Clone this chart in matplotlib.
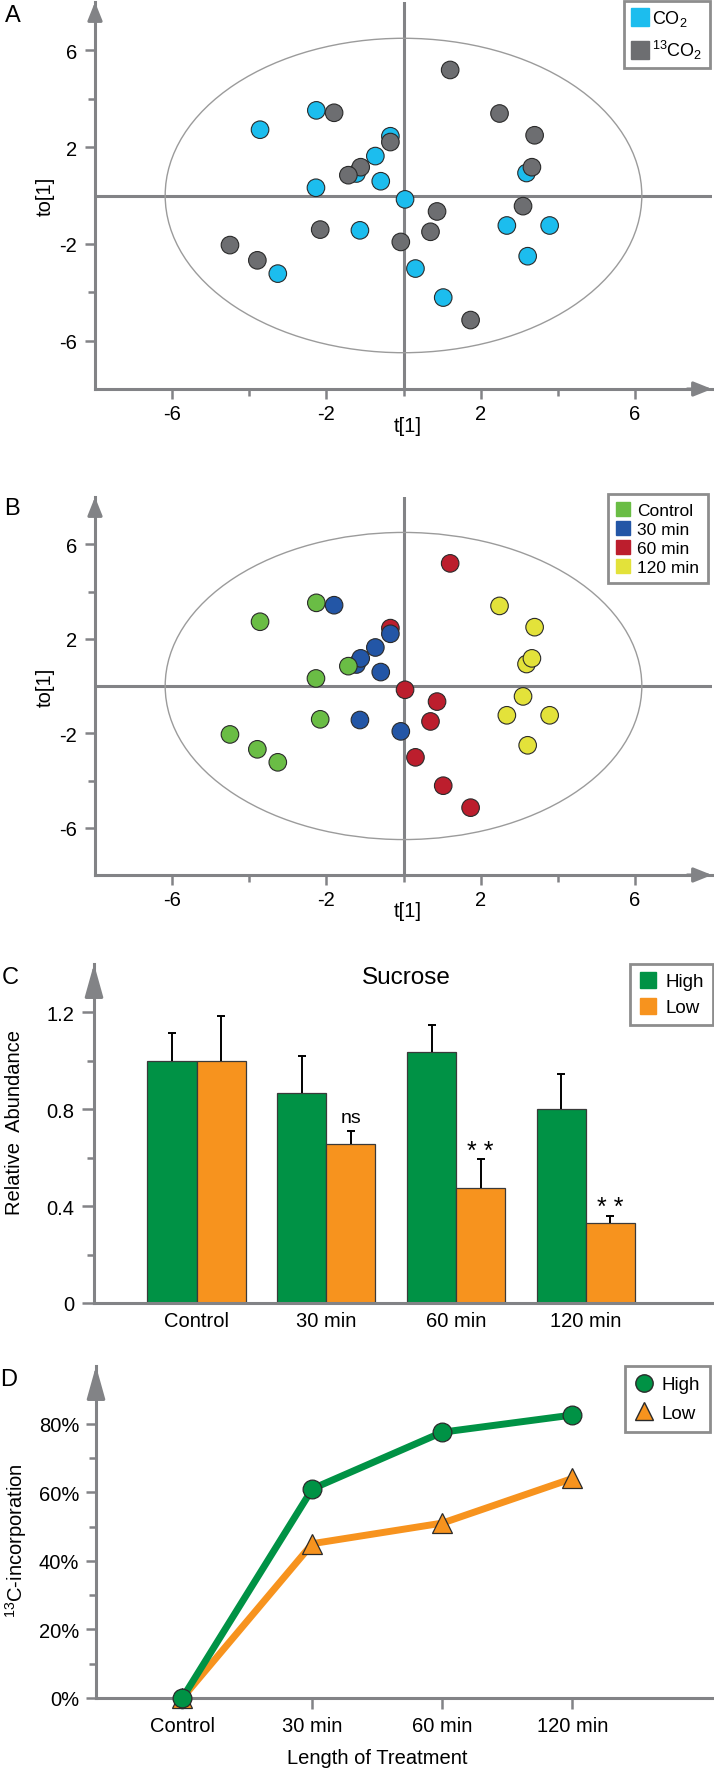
import matplotlib
matplotlib.use("Agg")
import matplotlib.pyplot as plt
from matplotlib.patches import Ellipse
from matplotlib.lines import Line2D
from matplotlib.ticker import FuncFormatter
import numpy as np

plt.rcParams['font.family'] = ['Liberation Sans', 'DejaVu Sans']
plt.rcParams['mathtext.fontset'] = 'custom'
plt.rcParams['mathtext.rm'] = 'Liberation Sans'
plt.rcParams['mathtext.it'] = 'Liberation Sans:italic'
plt.rcParams['axes.unicode_minus'] = False

# OPLS scores: 16 CO2 samples first, then 16 13CO2 samples
score_t = [-3.72, -2.26, -2.27, -0.34, -0.73, -1.22, -0.59, 0.04,
           -1.13, -3.26, 0.31, 1.03, 2.68, 3.79, 3.22, 3.19,
           1.21, -1.80, 2.49, 3.40, -0.34, -1.11, -1.43, 3.33,
           3.10, 0.87, 0.70, -0.07, -2.16, -4.50, -3.79, 1.74]
score_to = [2.72, 3.52, 0.32, 2.45, 1.63, 0.91, 0.59, -0.16,
            -1.44, -3.23, -3.02, -4.22, -1.24, -1.24, -2.51, 0.93,
            5.19, 3.42, 3.39, 2.49, 2.21, 1.17, 0.84, 1.17,
            -0.44, -0.66, -1.50, -1.92, -1.41, -2.05, -2.68, -5.15]
isotope = ['CO2', 'CO2', 'CO2', 'CO2', 'CO2', 'CO2', 'CO2', 'CO2',
           'CO2', 'CO2', 'CO2', 'CO2', 'CO2', 'CO2', 'CO2', 'CO2',
           '13CO2', '13CO2', '13CO2', '13CO2', '13CO2', '13CO2', '13CO2', '13CO2',
           '13CO2', '13CO2', '13CO2', '13CO2', '13CO2', '13CO2', '13CO2', '13CO2']
timepoint = ['Control', 'Control', 'Control', '60 min', '30 min', '30 min', '30 min', '60 min',
             '30 min', 'Control', '60 min', '60 min', '120 min', '120 min', '120 min', '120 min',
             '60 min', '30 min', '120 min', '120 min', '30 min', '30 min', 'Control', '120 min',
             '120 min', '60 min', '60 min', '30 min', 'Control', 'Control', 'Control', '60 min']

# Sucrose relative abundance
treatments = ['Control', '30 min', '60 min', '120 min']
sucrose_high = [1.00, 0.865, 1.035, 0.80]
sucrose_high_err = [0.115, 0.155, 0.11, 0.145]
sucrose_low = [1.00, 0.655, 0.475, 0.33]
sucrose_low_err = [0.185, 0.055, 0.12, 0.03]
significance = ['', 'ns', '* *', '* *']

# 13C incorporation (%)
incorp_high = [0, 61, 77.5, 82.5]
incorp_low = [0, 45, 51, 64]

GRAY = '#828386'
iso_colors = {'CO2': '#1CBDEE', '13CO2': '#6D6E71'}
iso_labels = {'CO2': 'CO$_2$', '13CO2': '$^{13}$CO$_2$'}
time_colors = {'Control': '#6ABD45', '30 min': '#2356A6', '60 min': '#BC1E2D', '120 min': '#E3E23A'}
GREEN = '#009245'
ORANGE = '#F7931E'

W, H = 714, 1774
fig = plt.figure(figsize=(W / 100, H / 100), dpi=100)


def px_axes(left, top, right, bottom):
    return fig.add_axes([left / W, 1 - bottom / H, (right - left) / W, (bottom - top) / H])


def style_axis(ax):
    for s in ['top', 'right']:
        ax.spines[s].set_visible(False)
    for s in ['left', 'bottom']:
        ax.spines[s].set_color(GRAY)
        ax.spines[s].set_linewidth(2.2)
    ax.tick_params(which='major', direction='out', color=GRAY, width=1.8, length=7, labelsize=14.5, pad=4)
    ax.tick_params(which='minor', direction='out', color=GRAY, width=1.8, length=5)


def arrow(ax, xy, xytext, big=False):
    if big:
        style = '-|>,head_length=1.0,head_width=0.28'
    else:
        style = '-|>,head_length=0.55,head_width=0.22'
    ax.annotate('', xy=xy, xytext=xytext, xycoords='axes fraction',
                arrowprops=dict(arrowstyle=style, color=GRAY, lw=2.2, shrinkA=0, shrinkB=0,
                                mutation_scale=20),
                annotation_clip=False)


def frame_legend(leg):
    fr = leg.get_frame()
    fr.set_edgecolor('#8d8d8d')
    fr.set_linewidth(2)
    fr.set_boxstyle('square', pad=0)


def score_plot(ax, colors):
    style_axis(ax)
    ax.set_xlim(-8, 8)
    ax.set_ylim(-8, 8)
    ax.axhline(0, color=GRAY, lw=2.2, zorder=1)
    ax.axvline(0, color=GRAY, lw=2.2, zorder=1)
    ax.add_patch(Ellipse((0, 0), 2 * 6.18, 2 * 6.5, fill=False, ec='#9b9b9b', lw=1.0, zorder=1))
    ax.scatter(score_t, score_to, s=160, c=colors, edgecolors='#2a2a2a', linewidths=0.8, zorder=3)
    ax.set_xticks([-6, -2, 2, 6])
    ax.set_xticks([-4, 0, 4], minor=True)
    ax.set_yticks([-6, -2, 2, 6])
    ax.set_yticks([-4, 4], minor=True)
    ax.tick_params(axis='y', which='major', pad=6)
    arrow(ax, (1.0, 0), (0.96, 0))
    arrow(ax, (0, 1.0), (0, 0.96))
    ax.text(-0.08, 0.5, 'to[1]', transform=ax.transAxes, rotation=90, ha='center', va='center', fontsize=14.5)
    ax.text(0.1, -9.5, 't[1]', ha='center', va='center', fontsize=14.5, clip_on=False)


def up_errorbars(ax, xs, means, errs):
    # one-sided (upper) error bars
    _, caps, _ = ax.errorbar(xs, means, yerr=[np.zeros(len(errs)), errs], fmt='none',
                             ecolor='black', elinewidth=1.4, capsize=2.7, capthick=1.4, zorder=3)
    caps[0].set_visible(False)


# ---- A: coloured by isotope
axA = px_axes(95, 3, 712, 390)
score_plot(axA, [iso_colors[i] for i in isotope])
hA = [Line2D([], [], marker='s', ls='none', markersize=13, markerfacecolor=iso_colors[k],
             markeredgecolor=iso_colors[k]) for k in ['CO2', '13CO2']]
legA = axA.legend(hA, [iso_labels[k] for k in ['CO2', '13CO2']], loc='upper right',
                  bbox_to_anchor=(710 / W, 1 - 2 / H), bbox_transform=fig.transFigure,
                  prop={'family': ['Liberation Sans Narrow', 'Liberation Sans'], 'size': 13},
                  handlelength=1.0, handletextpad=0.2, labelspacing=0.55,
                  borderpad=0.4, borderaxespad=0, fancybox=False, framealpha=1)
frame_legend(legA)

# ---- B: coloured by time point
axB = px_axes(95, 498, 712, 876)
score_plot(axB, [time_colors[t] for t in timepoint])
hB = [Line2D([], [], marker='s', ls='none', markersize=10, markerfacecolor=time_colors[k],
             markeredgecolor=time_colors[k]) for k in treatments]
legB = axB.legend(hB, treatments, loc='upper right',
                  bbox_to_anchor=(708 / W, 1 - 495 / H), bbox_transform=fig.transFigure,
                  fontsize=12.5, handlelength=0.8, handletextpad=0.4, labelspacing=0.22,
                  borderpad=0.5, borderaxespad=0, fancybox=False, framealpha=1)
frame_legend(legB)

# ---- C: sucrose bars
axC = px_axes(94, 965, 713, 1304)
style_axis(axC)
x = np.arange(len(treatments))
bw = 0.378
axC.bar(x - bw / 2, sucrose_high, bw, color=GREEN, edgecolor='#3a3a3a', lw=0.9, zorder=2)
axC.bar(x + bw / 2, sucrose_low, bw, color=ORANGE, edgecolor='#3a3a3a', lw=0.9, zorder=2)
up_errorbars(axC, x - bw / 2, sucrose_high, sucrose_high_err)
up_errorbars(axC, x + bw / 2, sucrose_low, sucrose_low_err)
for i, lab in enumerate(significance):
    if not lab:
        continue
    top = sucrose_low[i] + sucrose_low_err[i]
    if lab == 'ns':
        axC.text(x[i] + bw / 2, top + 0.035, lab, ha='center', va='baseline', fontsize=14)
    else:
        axC.text(x[i] + bw / 2, top + 0.005, lab, ha='center', va='baseline', fontsize=18)
axC.set_xlim(-0.79, 3.98)
axC.set_ylim(0, 1.398)
axC.set_xticks(x)
axC.set_xticklabels(treatments)
axC.tick_params(axis='x', length=0, pad=6)
axC.set_yticks([0, 0.4, 0.8, 1.2])
axC.set_yticks([0.2, 0.6, 1.0], minor=True)
axC.yaxis.set_major_formatter(FuncFormatter(lambda v, p: '0' if v == 0 else '%.1f' % v))
axC.tick_params(axis='y', which='major', length=9, pad=5)
arrow(axC, (0, 1.0), (0, 0.9), big=True)
axC.text(1.62, 1.345, 'Sucrose', ha='center', va='center', fontsize=17.5)
axC.text(-0.128, 0.534, 'Relative  Abundance', transform=axC.transAxes, rotation=90,
         ha='center', va='center', fontsize=14.5)
hC = [Line2D([], [], marker='s', ls='none', markersize=12, markerfacecolor=c, markeredgecolor=c)
      for c in [GREEN, ORANGE]]
legC = axC.legend(hC, ['High', 'Low'], loc='upper right',
                  bbox_to_anchor=(713 / W, 1 - 965 / H), bbox_transform=fig.transFigure,
                  fontsize=13.5, handlelength=1.0, handletextpad=0.4, labelspacing=0.45,
                  borderpad=0.5, borderaxespad=0, fancybox=False, framealpha=1)
frame_legend(legC)

# ---- D: 13C incorporation
axD = px_axes(96, 1367, 714, 1699)
style_axis(axD)
axD.plot(x, incorp_low, color=ORANGE, lw=5, marker='^', markersize=14.5,
         markerfacecolor=ORANGE, markeredgecolor='#2a2a2a', markeredgewidth=0.9, zorder=3, clip_on=False)
axD.plot(x, incorp_high, color=GREEN, lw=5, marker='o', markersize=13.5,
         markerfacecolor=GREEN, markeredgecolor='#2a2a2a', markeredgewidth=0.9, zorder=4, clip_on=False)
axD.set_xlim(-0.665, 4.09)
axD.set_ylim(0, 96.8)
axD.set_xticks(x)
axD.set_xticklabels(treatments)
axD.tick_params(axis='x', length=8, pad=5)
axD.set_yticks([0, 20, 40, 60, 80])
axD.set_yticks([10, 30, 50, 70], minor=True)
axD.yaxis.set_major_formatter(FuncFormatter(lambda v, p: '%d%%' % v))
axD.tick_params(axis='y', which='major', length=7, pad=5)
arrow(axD, (0, 1.0), (0, 0.9), big=True)
axD.text(1.5, -0.179, 'Length of Treatment', transform=axD.get_xaxis_transform(),
         ha='center', va='center', fontsize=14.5)
axD.text(-0.129, 0.478, '$^{13}$C-incorporation', transform=axD.transAxes, rotation=90,
         ha='center', va='center', fontsize=14.5)
hD = [Line2D([], [], marker='o', ls='none', markersize=12.5, markerfacecolor=GREEN, markeredgecolor='#2a2a2a'),
      Line2D([], [], marker='^', ls='none', markersize=13.5, markerfacecolor=ORANGE, markeredgecolor='#2a2a2a')]
legD = axD.legend(hD, ['High', 'Low'], loc='upper right',
                  bbox_to_anchor=(710 / W, 1 - 1367 / H), bbox_transform=fig.transFigure,
                  fontsize=13.5, handlelength=1.0, handletextpad=0.4, labelspacing=0.6,
                  borderpad=0.55, borderaxespad=0, fancybox=False, framealpha=1)
frame_legend(legD)

# panel letters
for letter, px, py in [('A', 12.5, 15.5), ('B', 12, 509), ('C', 10, 978), ('D', 9, 1380)]:
    fig.text(px / W, 1 - py / H, letter, ha='center', va='center', fontsize=17)

fig.savefig('out.png', dpi=100)
